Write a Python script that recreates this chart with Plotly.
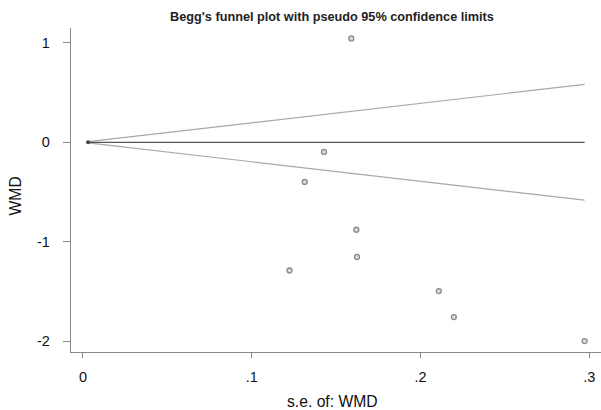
import plotly.graph_objects as go

se = [0.159, 0.1428, 0.1314, 0.162, 0.1624, 0.1224, 0.2109, 0.2198, 0.2973]
wmd = [1.045, -0.097, -0.399, -0.88, -1.153, -1.29, -1.497, -1.759, -2.0]
pooled = 0.0
se_min = 0.003
se_max = 0.2973
x_ticks = [0, 0.1, 0.2, 0.3]
x_ticktext = ["0", ".1", ".2", ".3"]
y_ticks = [-2, -1, 0, 1]
y_ticktext = ["-2", "-1", "0", "1"]

fig = go.Figure()
# pseudo 95% limits
fig.add_trace(go.Scatter(x=[se_min, se_max], y=[pooled + 1.96 * se_min, pooled + 1.96 * se_max],
                         mode="lines", line=dict(color="#a8a8a8", width=1.2), showlegend=False))
fig.add_trace(go.Scatter(x=[se_min, se_max], y=[pooled - 1.96 * se_min, pooled - 1.96 * se_max],
                         mode="lines", line=dict(color="#a8a8a8", width=1.2), showlegend=False))
fig.add_trace(go.Scatter(x=[se_min, se_max], y=[pooled, pooled],
                         mode="lines", line=dict(color="#555555", width=1.2), showlegend=False))
fig.add_trace(go.Scatter(x=[se_min], y=[pooled], mode="markers",
                         marker=dict(size=4, color="#444444"), showlegend=False))
fig.add_trace(go.Scatter(x=se, y=wmd, mode="markers",
                         marker=dict(size=5, color="#d8d8d8", symbol="circle",
                                     line=dict(color="#8a8a8a", width=1.3)),
                         showlegend=False))

font = "Liberation Sans, Arial, sans-serif"
fig.update_layout(
    width=601, height=410,
    margin=dict(l=71, r=0, t=28, b=58),
    paper_bgcolor="white", plot_bgcolor="white",
    title=dict(text="<b>Begg's funnel plot with pseudo 95% confidence limits</b>",
               x=332 / 601, xanchor="center", xref="container", y=1 - 17 / 410, yanchor="middle",
               font=dict(family=font, size=12.7, color="#222222")),
    xaxis=dict(range=[-0.0071, 0.307], tickvals=x_ticks, ticktext=x_ticktext, automargin=False,
               showgrid=False, zeroline=False, showline=True, linecolor="#888888", linewidth=1.3,
               ticks="outside", ticklen=5, tickcolor="#888888", ticklabelstandoff=6,
               tickfont=dict(family=font, size=14.5, color="#111111")),
    yaxis=dict(range=[-2.11, 1.15], tickvals=y_ticks, ticktext=y_ticktext, automargin=False,
               showgrid=False, zeroline=False, showline=True, linecolor="#888888", linewidth=1.3,
               ticks="outside", ticklen=7, tickcolor="#888888", ticklabelstandoff=10,
               tickfont=dict(family=font, size=14.5, color="#111111")),
    annotations=[
        dict(text="s.e. of: WMD", xref="paper", yref="paper", x=(332.5 - 71) / 530, y=-49 / 324,
             xanchor="center", yanchor="middle", showarrow=False,
             font=dict(family=font, size=15.7, color="#111111")),
        dict(text="WMD", xref="paper", yref="paper", x=-56 / 530, y=0.48, textangle=-90,
             xanchor="center", yanchor="middle", showarrow=False,
             font=dict(family=font, size=15.7, color="#111111")),
    ],
)
fig.write_html("out.html", post_script="document.body.style.margin='0';",
               config={"displayModeBar": False})
